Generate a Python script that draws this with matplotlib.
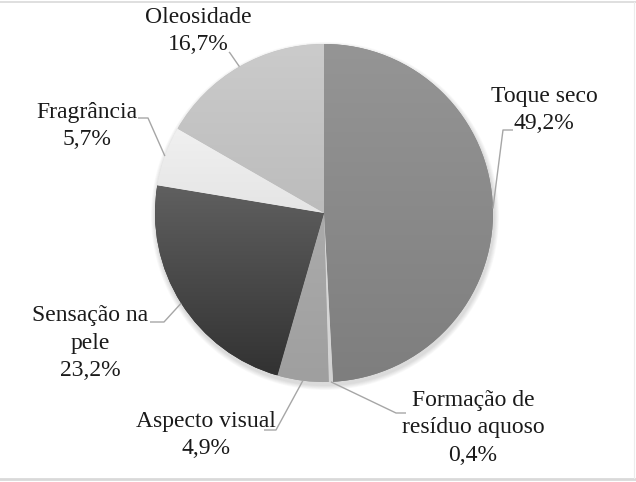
import numpy as np
import matplotlib.pyplot as plt
from matplotlib.colors import LinearSegmentedColormap

# Data
labels = ['Toque seco', 'Formação de\nresíduo aquoso', 'Aspecto visual',
          'Sensação na\npele', 'Fragrância', 'Oleosidade']
values = [49.2, 0.4, 4.9, 23.2, 5.7, 16.7]
pct_text = ['49,2%', '0,4%', '4,9%', '23,2%', '5,7%', '16,7%']

# Greys (top, bottom of each slice gradient)
shades = [('#959595', '#7e7e7e'), ('#dcdcdc', '#d2d2d2'), ('#ababab', '#9f9f9f'),
          ('#606060', '#323232'), ('#f0f0f0', '#e5e5e5'), ('#cbcbcb', '#bcbcbc')]

W, H = 636, 482
cx, cy, R = 324, 213, 169

# label layout in pixels (y down): text centre, elbow, end of leader line
text_pos = [(544, 110), (473, 428), (206, 435), (90, 343), (87, 126), (198, 31)]
elbows = [(503, 130), (396, 413), (276, 430), (164, 322), (148, 118), (230, 53)]
ends = [(513, 130), (406, 413), (264, 430), (150, 322), (138, 118), (229, 52)]

plt.rcParams['font.family'] = ['Liberation Serif', 'DejaVu Serif']

fig = plt.figure(figsize=(W / 100, H / 100), dpi=100)
ax = fig.add_axes([0, 0, 1, 1])

def fy(y):
    return H - y

wedges, _ = ax.pie(values, colors=[s[1] for s in shades], startangle=90,
                   counterclock=False, center=(cx, fy(cy)), radius=R,
                   wedgeprops=dict(linewidth=0))

# soft shadow under the pie
for k in range(6):
    sh = plt.Circle((cx + 1, fy(cy) - 3), R + 1 + k * 0.8, color='black',
                    alpha=0.025, zorder=0.5, linewidth=0)
    ax.add_patch(sh)

# vertical gradient in each slice
for w, (top, bot) in zip(wedges, shades):
    w.set_zorder(1)
    ext = w.get_path().get_extents()
    cmap = LinearSegmentedColormap.from_list('g', [bot, top])
    grad = np.linspace(1, 0, 256).reshape(-1, 1)
    im = ax.imshow(grad, cmap=cmap, vmin=0, vmax=1, aspect='auto',
                   extent=[ext.x0, ext.x1, ext.y0, ext.y1], zorder=2,
                   interpolation='bilinear')
    im.set_clip_path(w)

# labels and leader lines
for w, lab, pct, tp, el, en in zip(wedges, labels, pct_text, text_pos, elbows, ends):
    ang = np.deg2rad((w.theta1 + w.theta2) / 2)
    sx = cx + R * np.cos(ang)
    sy = fy(cy) + R * np.sin(ang)
    ax.plot([sx, el[0], en[0]], [sy, fy(el[1]), fy(en[1])], color='#a6a6a6',
            linewidth=1, zorder=3, solid_capstyle='butt')
    ax.text(tp[0], fy(tp[1]), lab + '\n' + pct, ha='center', va='center',
            fontsize=17, color='#1a1a1a', linespacing=1.38, zorder=4)

# faint frame lines
ax.plot([0, W], [fy(2), fy(2)], color='#d9d9d9', linewidth=1.2)
ax.plot([0, W], [fy(478.5), fy(478.5)], color='#d9d9d9', linewidth=2)
ax.plot([634, 634], [fy(2), fy(478)], color='#ececec', linewidth=0.8)

ax.set_xlim(0, W)
ax.set_ylim(0, H)
ax.set_aspect('equal')
ax.axis('off')

fig.savefig('out.png', dpi=100)
